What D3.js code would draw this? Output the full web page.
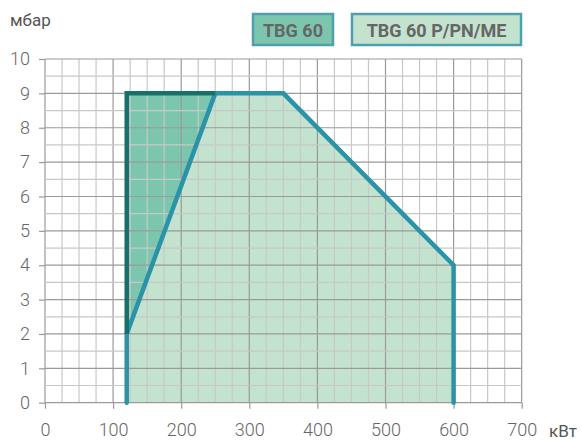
<!DOCTYPE html>
<html><head><meta charset="utf-8">
<script src="https://cdn.jsdelivr.net/npm/d3@7"></script>
<style>body{margin:0;background:#fff}svg{display:block}</style>
</head><body>
<svg id="c" width="582" height="441"></svg>
<script>
const xTicks = [0,100,200,300,400,500,600,700];
const yTicks = [0,1,2,3,4,5,6,7,8,9,10];
const seriesNames = ["TBG 60", "TBG 60 P/PN/ME"];
// TBG 60 P/PN/ME envelope
const bigX = [120,120,250,350,600,600];
const bigY = [0,2,9,9,4,0];
// TBG 60 envelope
const smallX = [250,120,120];
const smallY = [9,9,2];

const svg = d3.select("#c");
const x = d3.scaleLinear().domain([0,700]).range([45,521.7]);
const y = d3.scaleLinear().domain([0,10]).range([402.7,59]);
const font = "Roboto, 'DejaVu Sans', sans-serif";

const big = bigX.map((v,i)=>[v,bigY[i]]);
const small = smallX.map((v,i)=>[v,smallY[i]]);
const line = d3.line().x(d=>x(d[0])).y(d=>y(d[1]));
svg.append("path").attr("d", line(big)+"Z").attr("fill","#c3e3cf");
svg.append("path").attr("d", line([[120,2]].concat(small))+"Z").attr("fill","#7cc6ae");

// grid
const g = svg.append("g");
d3.range(0,701,25).forEach(v=>{
  const major = v%100===0;
  g.append("line").attr("x1",x(v)).attr("x2",x(v)).attr("y1",y(0)).attr("y2",y(10))
    .attr("stroke", major?"#9a9a9a":"#c8c8c8").attr("stroke-width",1.2);
});
d3.range(0,10.01,0.5).forEach(v=>{
  const major = Math.abs(v-Math.round(v))<1e-6;
  g.append("line").attr("x1",x(0)).attr("x2",x(700)).attr("y1",y(v)).attr("y2",y(v))
    .attr("stroke", major?"#9a9a9a":"#c8c8c8").attr("stroke-width",1.2);
});

// axes
const xa = svg.append("g").attr("transform",`translate(0,${y(0)})`)
  .call(d3.axisBottom(x).tickValues(xTicks).tickSize(6).tickPadding(15));
xa.select(".domain").remove();
xa.selectAll("line").attr("stroke","#9a9a9a").attr("stroke-width",1.2);
xa.selectAll("text").attr("font-family",font).attr("font-size",18).attr("fill","#666").attr("font-weight",300);

const ya = svg.append("g").attr("transform",`translate(${x(0)},0)`)
  .call(d3.axisLeft(y).tickValues(yTicks).tickSize(6).tickPadding(9));
ya.select(".domain").remove();
ya.selectAll("line").attr("stroke","#9a9a9a").attr("stroke-width",1.2);
ya.selectAll("text").attr("font-family",font).attr("font-size",18).attr("fill","#666").attr("font-weight",300);

// outlines
svg.append("path").attr("d", line(big)).attr("fill","none").attr("stroke","#2b93a8")
  .attr("stroke-width",4.5).attr("stroke-linejoin","miter").attr("stroke-linecap","round");
svg.append("path").attr("d", line(small)).attr("fill","none").attr("stroke","#17706a")
  .attr("stroke-width",4.5).attr("stroke-linejoin","miter").attr("stroke-linecap","butt");

// axis titles
svg.append("text").attr("x",10).attr("y",26).text("мбар").attr("font-family",font)
  .attr("font-size",17).attr("fill","#555");
svg.append("text").attr("x",549).attr("y",437).text("кВт").attr("font-family",font)
  .attr("font-size",17).attr("fill","#555");

// legend
const leg = [{name:seriesNames[0],x:253,w:80,fill:"#7cc6ae"},{name:seriesNames[1],x:352,w:169,fill:"#c3e3cf"}];
leg.forEach(l=>{
  svg.append("rect").attr("x",l.x).attr("y",14).attr("width",l.w).attr("height",31)
    .attr("fill",l.fill).attr("stroke","#4f9fb0").attr("stroke-width",2.5);
  svg.append("text").attr("x",l.x+l.w/2).attr("y",36.5).attr("text-anchor","middle").text(l.name)
    .attr("font-family",font).attr("font-size",18).attr("font-weight",700).attr("fill","#666");
});
</script>
</body></html>
